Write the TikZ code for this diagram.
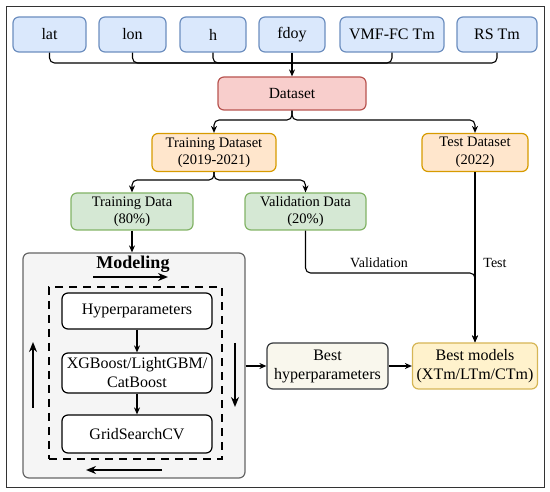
\documentclass[tikz,border=0pt]{standalone}
\usepackage{fontspec}
\setmainfont{Liberation Serif}
\usetikzlibrary{arrows.meta, positioning, calc}

\definecolor{inFill}{HTML}{DAE8FC}
\definecolor{inDraw}{HTML}{6C8EBF}
\definecolor{dsFill}{HTML}{F8CECC}
\definecolor{dsDraw}{HTML}{B85450}
\definecolor{spFill}{HTML}{FFE6CC}
\definecolor{spDraw}{HTML}{D79B00}
\definecolor{daFill}{HTML}{D5E8D4}
\definecolor{daDraw}{HTML}{82B366}
\definecolor{moFill}{HTML}{F5F5F5}
\definecolor{moDraw}{HTML}{666666}
\definecolor{bhFill}{HTML}{F9F7ED}
\definecolor{bhDraw}{HTML}{36393D}
\definecolor{bmFill}{HTML}{FFF2CC}
\definecolor{bmDraw}{HTML}{D6B656}

\begin{document}
\begin{tikzpicture}[
    x=1pt, y=-1pt,
    block/.style={rectangle, draw, line width=1.2pt, rounded corners=6pt, align=center, inner sep=1pt,
      font=\fontsize{16}{19}\selectfont},
    inbox/.style={block, fill=inFill, draw=inDraw, minimum height=35pt},
    databox/.style={block, minimum height=38pt, font=\fontsize{14.5}{17.5}\selectfont},
    arrow/.style={-{Stealth[length=7pt,width=6pt]}, line width=1.1pt, rounded corners=5pt},
    bigarrow/.style={-{Stealth[length=10pt,width=8pt]}, line width=1.8pt},
    note/.style={font=\fontsize{14}{16}\selectfont}
  ]

  \useasboundingbox (0,0) rectangle (550,492);
  \draw[line width=1pt, black!80] (6,7) rectangle (544,487);

  % ---- Inputs ----
  \node[inbox, minimum width=73pt] (lat) at (49.5,34.5) {lat};
  \node[inbox, minimum width=67pt] (lon) at (132.5,34.5) {lon};
  \node[inbox, minimum width=66pt] (h) at (213,34.5) {h};
  \node[inbox, minimum width=66pt] (fdoy) at (292,34.5) {fdoy};
  \node[inbox, minimum width=104pt] (vmf) at (392,34.5) {VMF-FC Tm};
  \node[inbox, minimum width=80pt] (rs) at (497,34.5) {RS Tm};

  \node[block, fill=dsFill, draw=dsDraw, minimum width=148pt, minimum height=33pt,
    font=\fontsize{15.5}{18}\selectfont] (dataset) at (292,93.5) {Dataset};

  \coordinate (bus) at (292,63);
  \foreach \n in {lat, lon, h, vmf, rs}
    \draw[line width=1.1pt, rounded corners=5pt] (\n.south) |- (bus);
  \draw[arrow] (fdoy.south) -- (dataset.north);

  % ---- Split ----
  \node[databox, fill=spFill, draw=spDraw, minimum width=124pt] (trainset) at (214,152.5) {Training Dataset\\(2019-2021)};
  \node[databox, fill=spFill, draw=spDraw, minimum width=106pt] (testset) at (475,152.5) {Test Dataset\\(2022)};

  \coordinate (split1) at (292,120);
  \draw[arrow] (dataset.south) -- (split1) -| (trainset.north);
  \draw[arrow] (dataset.south) -- (split1) -| (testset.north);

  \node[databox, fill=daFill, draw=daDraw, minimum width=122pt, minimum height=37pt] (traindata) at (132,211.5) {Training Data\\(80\%)};
  \node[databox, fill=daFill, draw=daDraw, minimum width=121pt, minimum height=37pt] (valdata) at (305.5,211.5) {Validation Data\\(20\%)};

  \coordinate (split2) at (214,180);
  \draw[arrow] (trainset.south) -- (split2) -| (traindata.north);
  \draw[arrow] (trainset.south) -- (split2) -| (valdata.north);

  % ---- Modeling ----
  \node[block, fill=moFill, draw=moDraw, minimum width=222pt, minimum height=225pt] (modeling) at (134,365.5) {};
  \node[font=\fontsize{18}{20}\selectfont\bfseries] (modtitle) at (133,264) {Modeling};
  \node[draw, line width=1.3pt, dash pattern=on 8pt off 6pt, minimum width=173pt, minimum height=172pt] (loop) at (135.5,373) {};

  \draw[arrow] (traindata.south) -- (traindata.south |- modeling.north);

  \node[block, fill=white, minimum width=150pt, minimum height=36pt] (hyper) at (137,311) {Hyperparameters};
  \node[block, fill=white, minimum width=150pt, minimum height=40pt] (algo) at (137,373) {XGBoost/LightGBM/\\CatBoost};
  \node[block, fill=white, minimum width=150pt, minimum height=38pt] (grid) at (137,434) {GridSearchCV};

  \draw[arrow] (hyper.south) -- (algo.north);
  \draw[arrow] (algo.south) -- (grid.north);

  % cycle arrows
  \coordinate (topA) at (93,277);   \coordinate (topB) at (168,277);
  \coordinate (rgtA) at (235,343);  \coordinate (rgtB) at (235,407);
  \coordinate (botA) at (162,470);  \coordinate (botB) at (86,470);
  \coordinate (lftA) at (33,408);   \coordinate (lftB) at (33,342);
  \draw[bigarrow] (topA) -- (topB);
  \draw[bigarrow] (rgtA) -- (rgtB);
  \draw[bigarrow] (botA) -- (botB);
  \draw[bigarrow] (lftA) -- (lftB);

  % ---- Results ----
  \node[block, fill=bhFill, draw=bhDraw, minimum width=121pt, minimum height=46pt] (besthyp) at (327.5,366) {Best\\hyperparameters};
  \node[block, fill=bmFill, draw=bmDraw, minimum width=125pt, minimum height=46pt] (bestmod) at (475,366) {Best models\\(XTm/LTm/CTm)};

  \draw[arrow] (modeling.east |- besthyp.west) -- (besthyp.west);
  \draw[arrow] (besthyp.east) -- (bestmod.west);

  \coordinate (join) at (475,273);
  \draw[arrow] (valdata.south) |- (join) -- (bestmod.north);
  \draw[arrow] (testset.south) -- (bestmod.north);

  \node[note] (vallbl) at (379,263) {Validation};
  \node[note] (testlbl) at (495,263) {Test};
\end{tikzpicture}
\end{document}
